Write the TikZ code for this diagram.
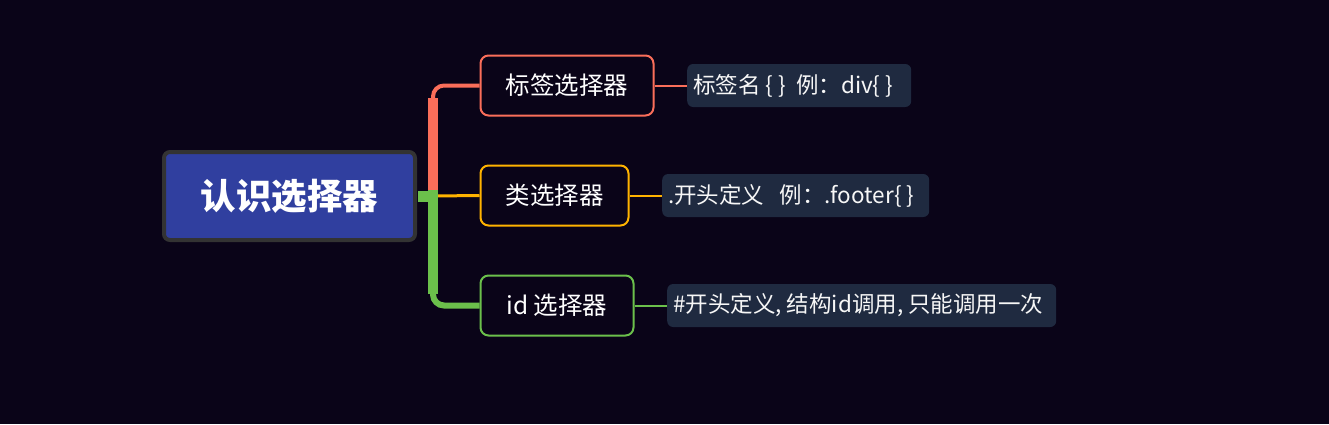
\documentclass[tikz,border=0pt]{standalone}
\usepackage{fontspec}
\setmainfont{Noto Sans CJK SC}
\newfontfamily\cjk{Noto Sans CJK SC}
\usetikzlibrary{calc}
\definecolor{bg}{HTML}{0A0418}
\definecolor{rootfill}{HTML}{303F9F}
\definecolor{rootline}{HTML}{333333}
\definecolor{cred}{HTML}{FA6E5A}
\definecolor{corange}{HTML}{FFB300}
\definecolor{cgreen}{HTML}{6BC04B}
\definecolor{leaffill}{HTML}{1F2A40}
\tikzset{
  rootbox/.style={draw=rootline, fill=rootfill, line width=4pt, rounded corners=6pt,
    minimum width=251pt, minimum height=88pt, inner sep=0pt, text=white,
    font=\cjk\bfseries\fontsize{35.5}{38}\selectfont},
  childbox/.style={draw=#1, fill=bg, line width=2pt, rounded corners=8pt,
    minimum height=60pt, inner sep=0pt, text=white,
    font=\cjk\fontsize{24.5}{28}\selectfont},
  leafbox/.style={fill=leaffill, rounded corners=6pt, minimum height=43pt,
    inner ysep=0pt, inner xsep=6pt, anchor=west, text=white!94!gray,
    font=\cjk\fontsize{22.5}{26}\selectfont},
}
\begin{document}
\begin{tikzpicture}[x=1pt,y=-1pt]
\fill[bg] (0,0) rectangle (1329,424);
\useasboundingbox (0,0) rectangle (1329,424);
% nodes
\node[rootbox] (root) at (289.5,196) {认识选择器};
\node[childbox=cred, minimum width=173pt] (c1) at (567,85.5) {标签选择器};
\node[childbox=corange, minimum width=148pt] (c2) at (554.5,195.5) {类选择器};
\node[childbox=cgreen, minimum width=153pt] (c3) at (557,305.5) {id 选择器};
\node[leafbox] (l1) at (687,85.5) {\makebox[212pt][l]{标签名 \{ \}\ \ 例：div\{ \}}};
\node[leafbox] (l2) at (662,195.5) {\makebox[255pt][l]{.开头定义\ \ \ 例：.footer\{ \}}};
\node[leafbox] (l3) at (667,305.5) {\makebox[377pt][l]{\#开头定义, 结构id调用, 只能调用一次}};
\coordinate (j) at ($(root.east)+(16,0)$);
% branches
\draw[cred, line width=4pt, rounded corners=11pt] (j) |- (c1.west);
\draw[cred, line width=10pt] ($(j)+(0,-6)$) -- ($(j|-c1.west)+(0,12)$);
\draw[cgreen, line width=6pt, rounded corners=11pt] (j) |- (c3.west);
\draw[cgreen, line width=10pt] ($(j)+(0,-6)$) -- ($(j|-c3.west)+(0,-12)$);
\draw[corange, line width=3pt] (j) -- (c2.west);
\draw[cgreen, line width=11pt] ($(root.east)+(1,0)$) -- ($(j)+(5,0)$);
% leaf connectors
\draw[cred, line width=2pt] (c1.east) -- (l1.west);
\draw[corange, line width=2pt] (c2.east) -- (l2.west);
\draw[cgreen, line width=2pt] (c3.east) -- (l3.west);
\end{tikzpicture}
\end{document}
